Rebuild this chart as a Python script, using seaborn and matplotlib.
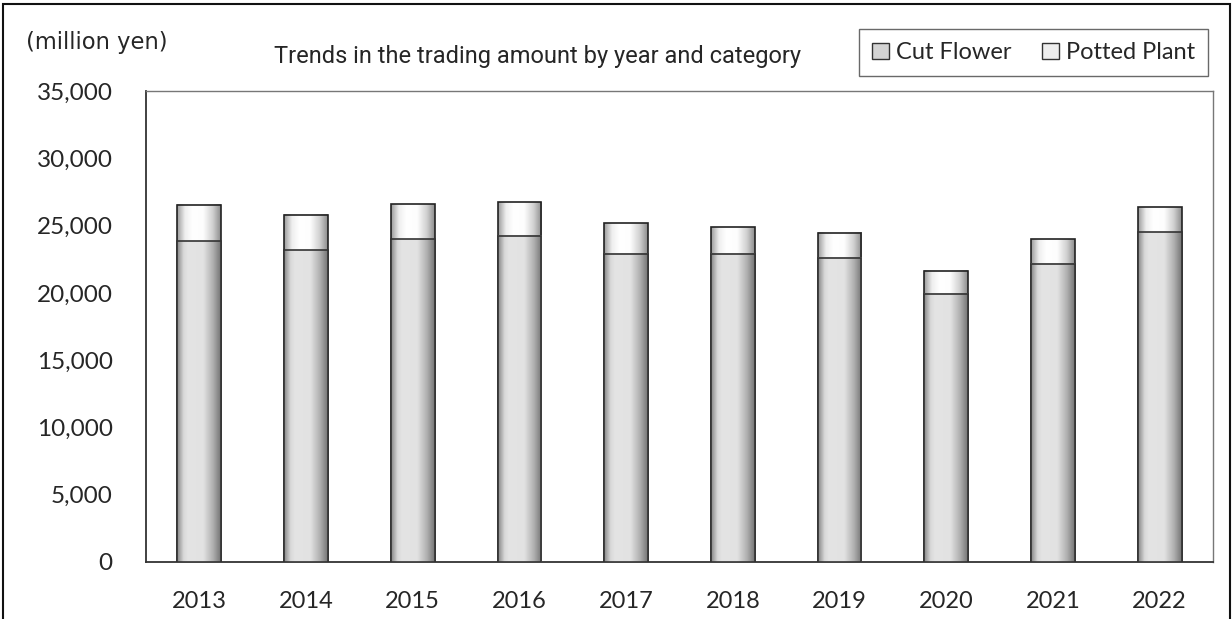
import numpy as np
import pandas as pd
import matplotlib
matplotlib.use('Agg')
import matplotlib.pyplot as plt
import seaborn as sns
from matplotlib.colors import LinearSegmentedColormap
from matplotlib.patches import Patch, Rectangle

years = ['2013', '2014', '2015', '2016', '2017', '2018', '2019', '2020', '2021', '2022']
cut_flower = [23850, 23180, 24000, 24250, 22890, 22910, 22610, 19920, 22170, 24500]
potted_plant = [2680, 2610, 2600, 2480, 2280, 1960, 1840, 1730, 1810, 1860]
y_ticks = [0, 5000, 10000, 15000, 20000, 25000, 30000, 35000]

df = pd.DataFrame({'year': years, 'cut': cut_flower, 'potted': potted_plant})
df['total'] = df['cut'] + df['potted']

sns.set_style('white')
plt.rcParams['font.family'] = ['Lato', 'DejaVu Sans']

fig = plt.figure(figsize=(12.32, 6.19), dpi=100)
ax = fig.add_axes([0.1185, 0.0921, 0.8661, 0.7609])

# totals first (potted on top), then cut flower over them
sns.barplot(data=df, x='year', y='total', color='white', width=0.41,
            edgecolor='#222222', linewidth=1.2, ax=ax, zorder=3)
sns.barplot(data=df, x='year', y='cut', color='white', width=0.41,
            edgecolor='#333333', linewidth=1.2, ax=ax, zorder=5)

# horizontal gradient fills like the original
cut_cmap = LinearSegmentedColormap.from_list(
    'cut', [(0, '#858585'), (0.15, '#d8d8d8'), (0.25, '#e4e4e4'), (0.6, '#e2e2e2'),
            (0.82, '#b0b0b0'), (1, '#747474')])
pot_cmap = LinearSegmentedColormap.from_list(
    'pot', [(0, '#9a9a9a'), (0.18, '#eeeeee'), (0.35, '#ffffff'), (0.6, '#fdfdfd'),
            (0.82, '#cfcfcf'), (1, '#8c8c8c')])
grad = np.linspace(0, 1, 256).reshape(1, -1)
n = len(years)
for i, p in enumerate(ax.patches):
    x0, y0 = p.get_x(), p.get_y()
    w, h = p.get_width(), p.get_height()
    cmap = pot_cmap if i < n else cut_cmap
    z = 2 if i < n else 4
    ax.imshow(grad, cmap=cmap, aspect='auto', extent=[x0, x0 + w, y0, y0 + h],
              zorder=z, interpolation='bilinear')
    p.set_facecolor('none')

ax.set_xlim(-0.5, n - 0.5)
ax.set_ylim(0, 35000)
ax.set_yticks(y_ticks)
ax.set_yticklabels([f'{v:,}' for v in y_ticks])
ax.set_xlabel('')
ax.set_ylabel('')

ax.set_xticks(np.arange(n))
ax.set_xticks(np.arange(n + 1) - 0.5, minor=True)
ax.tick_params(axis='x', which='major', length=0, pad=21, labelsize=17)
ax.tick_params(axis='x', which='minor', direction='in', length=9, width=1, color='#333333')
ax.tick_params(axis='y', direction='in', length=9, width=1, color='#333333', pad=24, labelsize=17.5)

for s in ['top', 'right']:
    ax.spines[s].set_color('#777777')
    ax.spines[s].set_linewidth(1)
for s in ['left', 'bottom']:
    ax.spines[s].set_color('#333333')
    ax.spines[s].set_linewidth(1.3)

fig.text(0.4363, 0.908, 'Trends in the trading amount by year and category',
         ha='center', va='center', fontsize=17, family=['Roboto', 'DejaVu Sans'])
fig.text(0.0787, 0.932, '(million yen)', ha='center', va='center', fontsize=16.3,
         family=['DejaVu Sans'])

handles = [Patch(facecolor='#d4d4d4', edgecolor='#333333', label='Cut Flower'),
           Patch(facecolor='#eeeeee', edgecolor='#333333', label='Potted Plant')]
leg = fig.legend(handles=handles, loc='upper right', bbox_to_anchor=(0.9805, 0.953),
                 ncol=2, frameon=True, fancybox=False, fontsize=17,
                 handlelength=0.7, handleheight=0.7, handletextpad=0.3,
                 columnspacing=1.3, borderpad=0.55, borderaxespad=0)
leg.get_frame().set_edgecolor('#444444')
leg.get_frame().set_linewidth(1)

# outer frame around the chart area
fig.patches.append(Rectangle((3 / 1232, -0.2), 1227 / 1232, 1.2 - 4 / 619,
                             transform=fig.transFigure, fill=False,
                             edgecolor='#111111', linewidth=1.5))

fig.savefig('out.png', dpi=100)
